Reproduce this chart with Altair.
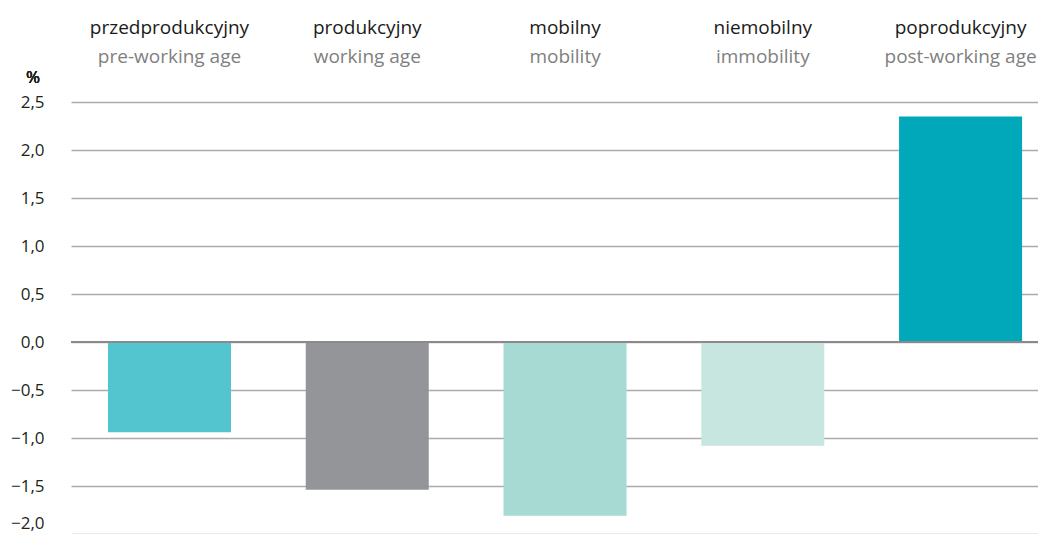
import altair as alt
import pandas as pd

categories_pl = ["przedprodukcyjny", "produkcyjny", "mobilny", "niemobilny", "poprodukcyjny"]
categories_en = ["pre-working age", "working age", "mobility", "immobility", "post-working age"]
values = [-0.94, -1.54, -1.81, -1.08, 2.35]
colors = ["#52C5CF", "#939598", "#A6DAD3", "#C8E6E0", "#00A8B9"]
ticks = [-2.0, -1.5, -1.0, -0.5, 0.0, 0.5, 1.0, 1.5, 2.0, 2.5]

df = pd.DataFrame({"pl": categories_pl, "en": categories_en, "value": values})

FONT = "Open Sans"
W = 967

xscale = alt.Scale(paddingInner=0.378, paddingOuter=0.1338, align=0.699)

bars = alt.Chart(df).mark_bar().encode(
    x=alt.X("pl:N", sort=categories_pl, scale=xscale, axis=None),
    y=alt.Y("value:Q",
            scale=alt.Scale(domain=[-2.0, 2.5], nice=False),
            axis=alt.Axis(values=ticks,
                          labelExpr="replace(format(datum.value, '.1f'), '.', ',')",
                          title=None, domain=False, ticks=False,
                          labelOffset={"condition": {"test": "datum.value <= -2", "value": -11}, "value": 0},
                          labelPadding=27, labelFontSize=17, labelColor="#231f20",
                          labelFont=FONT, grid=True, gridColor="#ababab", gridWidth=1.6)),
    color=alt.Color("pl:N", scale=alt.Scale(domain=categories_pl, range=colors), legend=None),
)

zero = alt.Chart(df).mark_rule(color="#8a8a8a", strokeWidth=2).encode(
    y=alt.datum(0), x=alt.value(0), x2=alt.value(W)
)

head_pl = alt.Chart(df).mark_text(fontSize=19, font=FONT, color="#1a1a1a", baseline="alphabetic").encode(
    x=alt.X("pl:N", sort=categories_pl, scale=xscale, axis=None), y=alt.value(-68), text="pl:N"
)
head_en = alt.Chart(df).mark_text(fontSize=19, font=FONT, color="#808080", baseline="alphabetic").encode(
    x=alt.X("pl:N", sort=categories_pl, scale=xscale, axis=None), y=alt.value(-39), text="en:N"
)
pct = alt.Chart(df).mark_text(fontSize=17, font=FONT, fontWeight="normal", color="#231f20", baseline="alphabetic").encode(
    x=alt.value(-38), y=alt.value(-19), text=alt.value("%")
)

chart = alt.layer(bars, zero, head_pl, head_en, pct).properties(
    width=W, height=432,
    autosize=alt.AutoSizeParams(type="none"),
    padding={"left": 63, "top": 94, "right": 0, "bottom": 0},
).configure_view(stroke=None)

chart.save("out.html", embed_options={"renderer": "svg", "actions": False})
